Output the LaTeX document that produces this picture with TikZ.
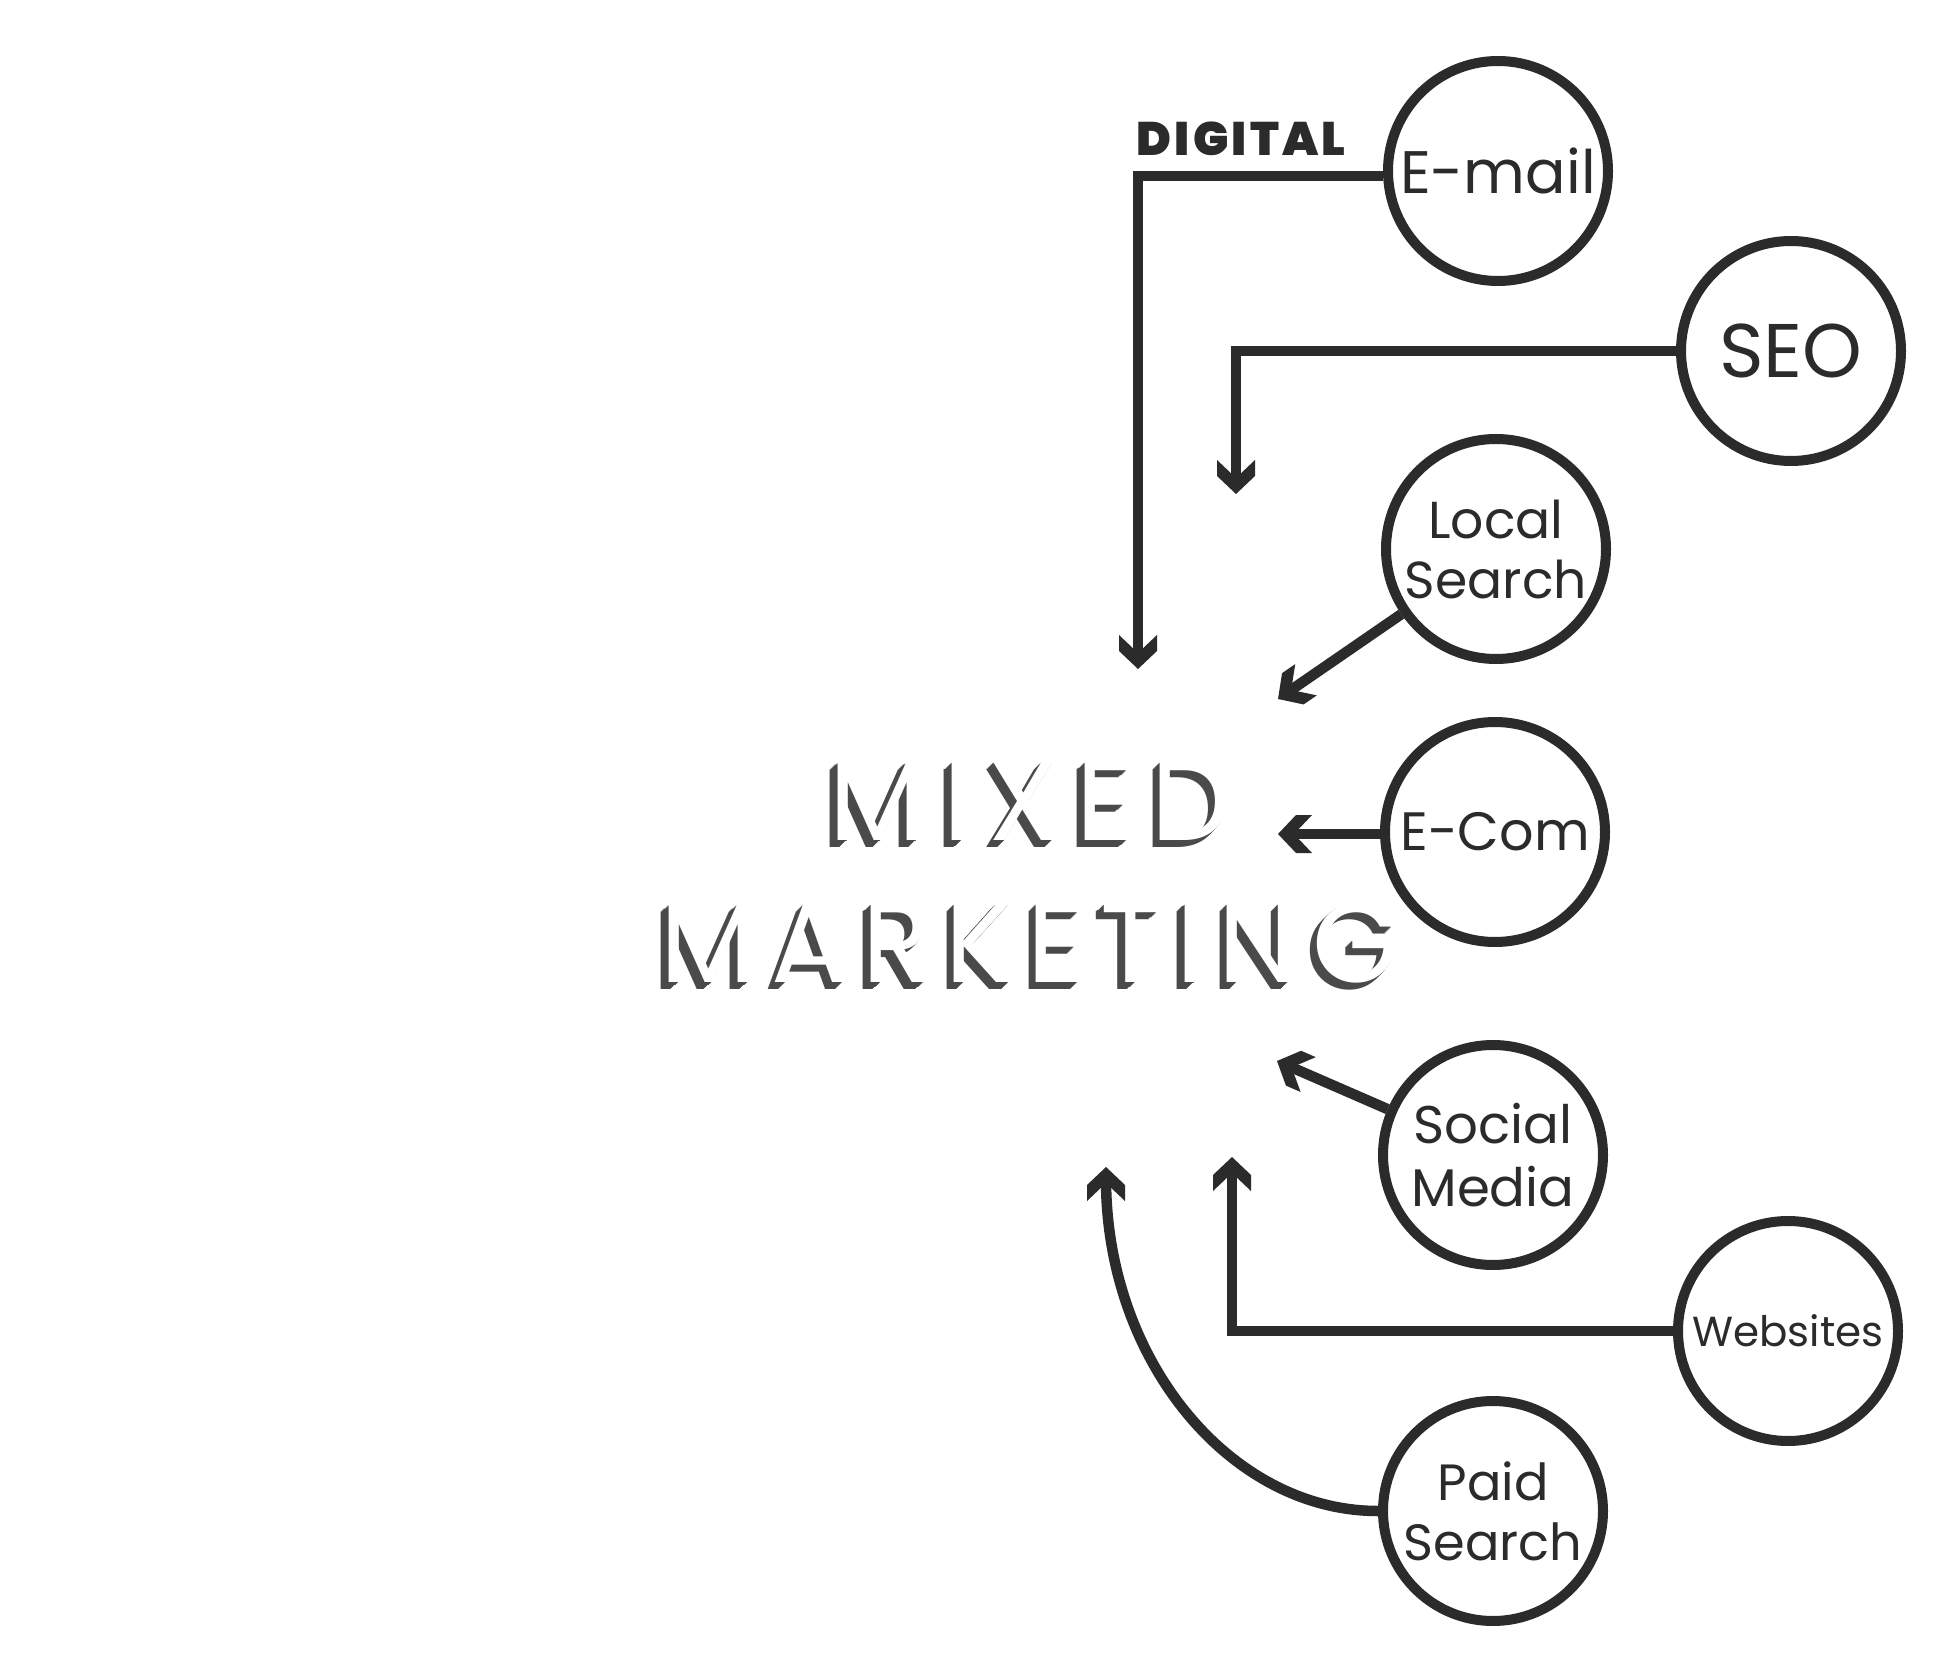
\documentclass[tikz,border=0pt]{standalone}
\usepackage{fontspec}
\setmainfont{Poppins}
\newfontfamily\pblack{Poppins Black}
\usetikzlibrary{arrows.meta}
\definecolor{linec}{HTML}{2B2B2B}
\definecolor{shadowc}{HTML}{4A4A4A}

\pgfdeclarearrow{
  name = Chev,
  parameters = {},
  setup code = {
    \pgfarrowssettipend{0pt}
    \pgfarrowssetlineend{-6pt}
    \pgfarrowssetbackend{-17pt}
    \pgfarrowshullpoint{0pt}{0pt}
    \pgfarrowshullpoint{-17pt}{9.5pt}
    \pgfarrowshullpoint{-17pt}{-9.5pt}
  },
  drawing code = {
    \pgfsetfillcolor{linec}
    \pgfpathmoveto{\pgfqpoint{0pt}{0pt}}
    \pgfpathlineto{\pgfqpoint{-9pt}{9.5pt}}
    \pgfpathlineto{\pgfqpoint{-17pt}{9.5pt}}
    \pgfpathlineto{\pgfqpoint{-8pt}{0pt}}
    \pgfpathlineto{\pgfqpoint{-17pt}{-9.5pt}}
    \pgfpathlineto{\pgfqpoint{-9pt}{-9.5pt}}
    \pgfpathclose
    \pgfusepathqfill
  }
}

\begin{document}
\begin{tikzpicture}[x=0.5pt,y=-0.5pt,
  circ/.style={circle,draw=linec,line width=5pt,minimum size=110pt,inner sep=0pt,align=center,text=linec},
  conn/.style={draw=linec,line width=5.25pt,line join=miter,-Chev},
  mmA/.style={anchor=base,inner sep=0pt,font=\fontsize{56}{62}\selectfont\addfontfeatures{LetterSpace=16}},
  mmB/.style={anchor=base,inner sep=0pt,font=\fontsize{56}{62}\selectfont\addfontfeatures{LetterSpace=13.5}}]
\useasboundingbox[fill=white] (0,0) rectangle (1960,1668);

% big title with extruded shadow
\foreach \k in {1,...,7}{
  \node[mmA,text=shadowc] (mxs\k) at ({1030-1.07*\k},{840+\k}) {MIXED};
  \node[mmB,text=shadowc] (mks\k) at ({1030-1.07*\k},{982+\k}) {MARKETING};
}
\node[mmA,text=white] (mx) at (1030,840) {MIXED};
\node[mmB,text=white] (mk) at (1030,982) {MARKETING};

% circles
\node[circ,font=\fontsize{30}{36}\selectfont] (em) at (1498,171) {E-mail};
\node[circ,font=\fontsize{38}{44}\selectfont] (seo) at (1791,351) {SEO};
\node[circ,font=\fontsize{26}{30}\selectfont] (ls) at (1496,549) {Local\\Search};
\node[circ,font=\fontsize{27}{30}\selectfont] (ec) at (1495,832) {E-Com};
\node[circ,font=\fontsize{26.5}{31.5}\selectfont] (sm) at (1493,1155) {Social\\Media};
\node[circ,font=\fontsize{21}{25}\selectfont] (ws) at (1788,1331) {Websites};
\node[circ,font=\fontsize{25.5}{30}\selectfont] (ps) at (1493,1511) {Paid\\Search};

\node[anchor=base west,inner sep=0pt,text=linec,font=\fontsize{23.5}{28}\pblack\addfontfeatures{LetterSpace=7}] (dig) at (1136,156) {DIGITAL};

% arrow targets
\coordinate (emt) at (1138,669);
\coordinate (seot) at (1236,494);
\coordinate (lst) at (1278,699);
\coordinate (ect) at (1278,834);
\coordinate (smt) at (1277,1061);
\coordinate (wst) at (1232,1157);
\coordinate (pst) at (1106,1167);

\draw[conn] ([yshift=-2.5pt]em.west) -| (emt);
\draw[conn] (seo.west) -| (seot);
\draw[conn] (ls) -- (lst);
\draw[conn] ([yshift=-1pt]ec.west) -- (ect);
\draw[conn] (sm) -- (smt);
\draw[conn] (ws.west) -| (wst);
\draw[conn] (ps.west) .. controls (1230,1511) and (1106,1360) .. (pst);
\end{tikzpicture}
\end{document}
